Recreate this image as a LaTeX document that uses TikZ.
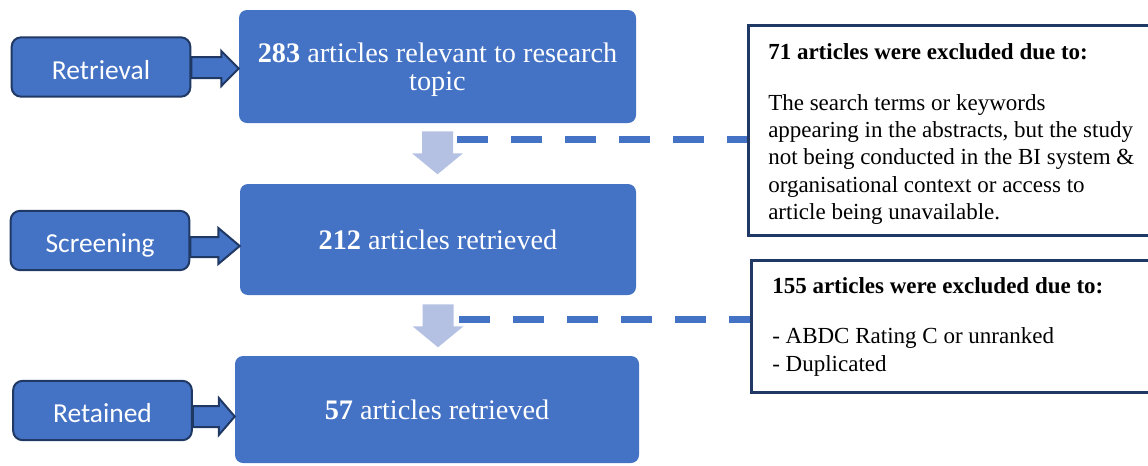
\documentclass[tikz,border=0pt]{standalone}
\usepackage{fontspec}
\setmainfont{Liberation Serif}
\newfontfamily\stagefont{Carlito}
\usetikzlibrary{calc}
\definecolor{boxblue}{HTML}{4472C4}
\definecolor{edgenavy}{HTML}{203864}
\definecolor{arrowpale}{HTML}{B4C1E3}

\begin{document}
\begin{tikzpicture}[x=0.75pt, y=-0.75pt,
    stage/.style={rectangle, rounded corners=7pt, fill=boxblue, draw=edgenavy,
                  line width=1.5pt, minimum width=134pt, minimum height=44.5pt,
                  text height=19.5pt, text depth=1.5pt,
                  text=white, font=\stagefont\fontsize{20.6}{24}\selectfont},
    count/.style={rectangle, rounded corners=6pt, fill=boxblue, text=white,
                  align=center, font=\fontsize{21.2}{21}\selectfont},
    excl/.style={rectangle, draw=edgenavy, line width=2.25pt, fill=white},
    excltext/.style={anchor=north west, inner sep=0pt, align=left,
                     font=\fontsize{17.25}{20.44}\selectfont},
    push/.style={fill=boxblue, draw=edgenavy, line width=1.5pt},
    flow/.style={fill=arrowpale},
    dashlink/.style={draw=boxblue, line width=5.25pt,
                     dash pattern=on 23.25pt off 17.25pt},
]
\useasboundingbox (0,0) rectangle (1148,465);
\clip (0,0) rectangle (1148,465);

% Stages on the left
\node[stage] (ret) at (101,67) {Retrieval};
\node[stage] (scr) at (100,240.5) {Screening};
\node[stage] (kept) at (102.5,410.5) {Retained};

% Article counts
\node[count, minimum width=297.75pt, minimum height=84.75pt] (b1) at (437.5,66.5)
     {\rule{0pt}{19pt}\textbf{283} articles relevant to research\\topic};
\node[count, minimum width=297pt, minimum height=83.25pt] (b2) at (438,239.5)
     {\textbf{212} articles retrieved};
\node[count, minimum width=303pt, minimum height=80.25pt] (b3) at (437,409.5)
     {\textbf{57} articles retrieved};

% Exclusion boxes
\node[excl, minimum width=308.6pt, minimum height=157.5pt] (ex1) at (954,130.5) {};
\node[excl, minimum width=306.4pt, minimum height=99pt] (ex2) at (955.75,326.5) {};
\node[excltext] (ex1t) at (768,43.5)
     {\textbf{71 articles were excluded due to:}\\[17.5pt]
      The search terms or keywords\\
      appearing in the abstracts, but the study\\
      not being conducted in the BI system \&\\
      organisational context or access to\\
      article being unavailable.};
\node[excltext] (ex2t) at (772,277)
     {\textbf{155 articles were excluded due to:}\\[17.5pt]
      - ABDC Rating C or unranked\\
      - Duplicated};

% Block arrows from stage to count
\draw[push] ($(ret.east)+(0,-10)$) -- ($(ret.east)+(30,-10)$) -- ($(ret.east)+(30,-16)$)
      -- ($(ret.east -| b1.west)+(0,1.5)$) -- ($(ret.east)+(30,19)$)
      -- ($(ret.east)+(30,11)$) -- ($(ret.east)+(0,11)$) -- cycle;
\draw[push] ($(scr.east)+(0,-3.5)$) -- ($(scr.east)+(28,-3.5)$) -- ($(scr.east)+(28,-12.5)$)
      -- ($(scr.east -| b2.west)+(0,5.5)$) -- ($(scr.east)+(28,23.5)$)
      -- ($(scr.east)+(28,16.5)$) -- ($(scr.east)+(0,16.5)$) -- cycle;
\draw[push] ($(kept.east)+(0,-4.5)$) -- ($(kept.east)+(26,-4.5)$) -- ($(kept.east)+(26,-12.5)$)
      -- ($(kept.east -| b3.west)+(0,6)$) -- ($(kept.east)+(26,24.5)$)
      -- ($(kept.east)+(26,16.5)$) -- ($(kept.east)+(0,16.5)$) -- cycle;

% Pale down arrows between counts
\fill[flow] ($(b1.south)+(-15.5,8)$) -- ($(b1.south)+(15.5,8)$) -- ($(b1.south)+(15.5,30)$)
      -- ($(b1.south)+(25.5,30)$) -- ($(b1.south)+(0,51)$) -- ($(b1.south)+(-25.5,30)$)
      -- ($(b1.south)+(-15.5,30)$) -- cycle;
\fill[flow] ($(b2.south)+(-15.5,9)$) -- ($(b2.south)+(15.5,9)$) -- ($(b2.south)+(15.5,31)$)
      -- ($(b2.south)+(25.5,31)$) -- ($(b2.south)+(0,52)$) -- ($(b2.south)+(-25.5,31)$)
      -- ($(b2.south)+(-15.5,31)$) -- cycle;

% Dashed links to the exclusion boxes
\coordinate (d1) at ($(b1.south)+(19.5,16.5)$);
\coordinate (d2) at ($(b2.south)+(21,24.5)$);
\draw[dashlink] (d1) -- (d1 -| ex1.west);
\draw[dashlink] (d2) -- (d2 -| ex2.west);

\end{tikzpicture}
\end{document}
